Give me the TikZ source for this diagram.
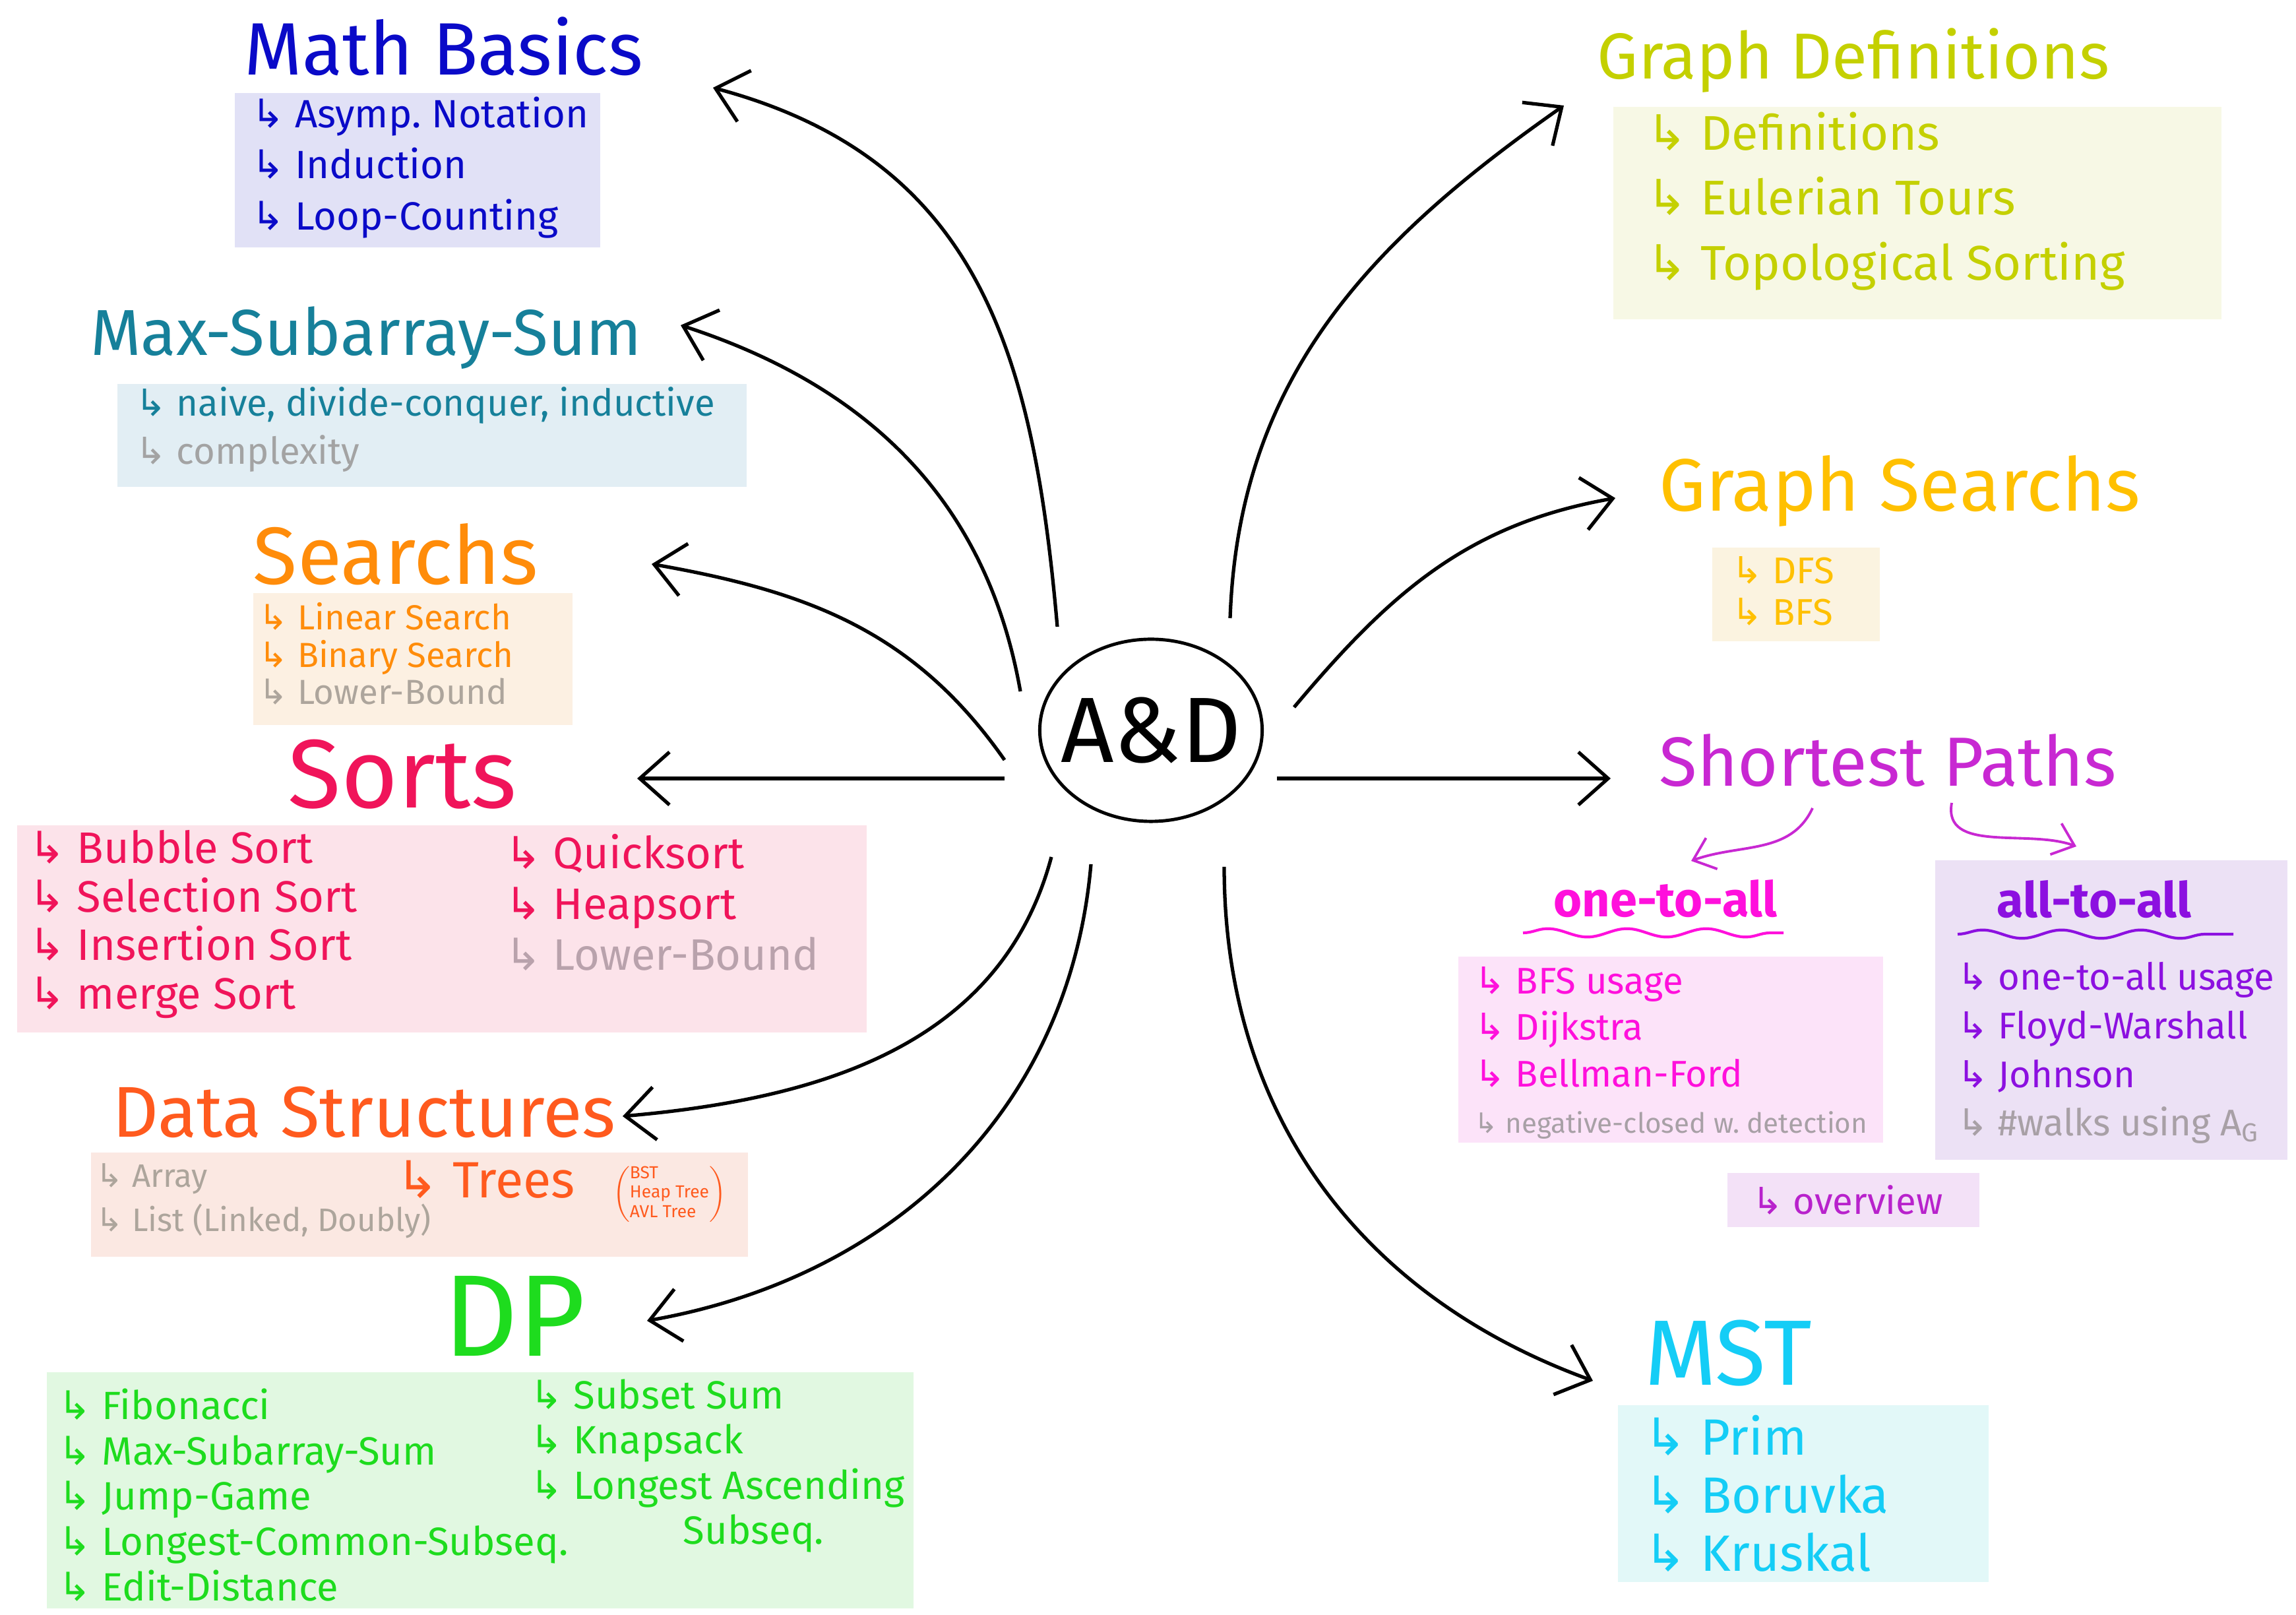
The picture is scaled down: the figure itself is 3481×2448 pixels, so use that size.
\documentclass[tikz,border=0pt]{standalone}
\usepackage{fontspec}
\setmainfont{Fira Sans}
\newfontfamily\symfont{DejaVu Sans}
\usepackage{tikz}
\usetikzlibrary{arrows.meta,shapes.geometric,decorations.pathmorphing}

\definecolor{mbcol}{HTML}{0A0AC8}
\definecolor{mbfill}{HTML}{E1E1F6}
\definecolor{mscol}{HTML}{16809A}
\definecolor{msfill}{HTML}{E2EEF4}
\definecolor{srcol}{HTML}{FF8C0A}
\definecolor{srfill}{HTML}{FCF0E2}
\definecolor{socol}{HTML}{F0145A}
\definecolor{sofill}{HTML}{FCE3EA}
\definecolor{dscol}{HTML}{FF5A1E}
\definecolor{dsfill}{HTML}{FBE8E2}
\definecolor{dpcol}{HTML}{1EDC1E}
\definecolor{dpfill}{HTML}{E1F8E1}
\definecolor{gdcol}{HTML}{C4D000}
\definecolor{gdfill}{HTML}{F7F8E5}
\definecolor{gscol}{HTML}{FFC000}
\definecolor{gsfill}{HTML}{FBF3E0}
\definecolor{spcol}{HTML}{C828D2}
\definecolor{otacol}{HTML}{FF10DC}
\definecolor{otafill}{HTML}{FCE3F9}
\definecolor{atacol}{HTML}{8C10E0}
\definecolor{atafill}{HTML}{ECE1F5}
\definecolor{ovcol}{HTML}{B822CC}
\definecolor{ovfill}{HTML}{F3E1F7}
\definecolor{mstcol}{HTML}{14CDF6}
\definecolor{mstfill}{HTML}{E2F8F8}
\definecolor{greyA}{HTML}{A3A3A3}
\definecolor{greyB}{HTML}{ADA59C}
\definecolor{greyC}{HTML}{B9A2AC}
\definecolor{greyD}{HTML}{A8A0A6}

\newcommand{\itm}{{\symfont ↳}\ }
\newcommand{\fs}[2]{\fontsize{#1}{#2}\selectfont}

\tikzstyle{head}=[inner sep=0]
\tikzstyle{box}=[rectangle,inner sep=0]
\tikzstyle{list}=[align=left,inner sep=0,anchor=west]
\tikzstyle{branch}=[draw,line width=1.5pt,black,>={Straight Barb[length=4.5mm,width=8mm]}]
\tikzstyle{subbranch}=[draw,line width=1.1pt,spcol,>={Straight Barb[length=3mm,width=5mm]}]
\tikzstyle{wavy}=[draw,line width=1.2pt,decorate,decoration={snake,amplitude=1.8pt,segment length=1.2cm}]

\begin{document}
\begin{tikzpicture}[x=0.01cm,y=0.01cm]
	\useasboundingbox (0,0) rectangle (3481,2448);

	\node[ellipse,draw,line width=1.4pt,inner sep=0,minimum width=3.37cm,minimum height=2.76cm,font=\fs{40}{46}] (ad) at (1745,1341) {\makebox[2cm]{A\&D}};

	% left side
	\node[head,text=mbcol,font=\fs{32}{38}] (mb) at (673,2378) {Math Basics};
	\node[box,fill=mbfill,minimum width=5.53cm,minimum height=2.33cm] (mbb) at (633,2190) {};
	\node[list,text=mbcol,font=\fs{17}{22}] (mbl) at ([shift={(25,4)}]mbb.west)
	{\itm Asymp.\ Notation\\ \itm Induction\\ \itm Loop-Counting};

	\node[head,text=mscol,font=\fs{28}{34}] (ms) at (555,1936) {Max-Subarray-Sum};
	\node[box,fill=msfill,minimum width=9.54cm,minimum height=1.55cm] (msb) at (655,1788) {};
	\node[list,text=mscol,font=\fs{16}{21}] (msl) at ([shift={(28,9)}]msb.west)
	{\itm naive, divide-conquer, inductive\\ \textcolor{greyA}{\itm complexity}};

	\node[head,text=srcol,font=\fs{35}{40}] (sr) at (600,1608) {Searchs};
	\node[box,fill=srfill,minimum width=4.84cm,minimum height=2cm] (srb) at (626,1449) {};
	\node[list,text=srcol,font=\fs{15}{16}] (srl) at ([shift={(9,8)}]srb.west)
	{\itm Linear Search\\ \itm Binary Search\\ \textcolor{greyB}{\itm Lower-Bound}};

	\node[head,text=socol,font=\fs{42}{48}] (so) at (610,1274) {Sorts};
	\node[box,fill=sofill,minimum width=12.87cm,minimum height=3.13cm] (sob) at (670,1040) {};
	\node[list,text=socol,font=\fs{19}{21}] (sol) at ([shift={(17,7)}]sob.west)
	{\itm Bubble Sort\\ \itm Selection Sort\\ \itm Insertion Sort\\ \itm merge Sort};
	\node[list,text=socol,font=\fs{19}{22}] (sor) at ([shift={(739,40)}]sob.west)
	{\itm Quicksort\\ \itm Heapsort\\ \textcolor{greyC}{\itm Lower-Bound}};

	\node[head,text=dscol,font=\fs{31}{36}] (ds) at (552,762) {Data Structures};
	\node[box,fill=dsfill,minimum width=9.96cm,minimum height=1.58cm] (dsb) at (636,622) {};
	\node[list,text=greyB,font=\fs{14}{19}] (dsl) at ([shift={(8,6)}]dsb.west)
	{\itm Array\\ \itm List (Linked, Doubly)};
	\node[list,text=dscol,font=\fs{22}{26}] (dst) at (600,660) {\itm Trees};
	\node[inner sep=0,text=dscol,font=\fs{7.5}{8.5}] (dsn) at (1015,638)
	{$\left(\begin{tabular}{@{}l@{}}BST\\ Heap Tree\\ AVL Tree\end{tabular}\right)$};

	\node[head,text=dpcol,font=\fs{50}{56}] (dp) at (780,453) {DP};
	\node[box,fill=dpfill,minimum width=13.14cm,minimum height=3.58cm] (dpb) at (728,189) {};
	\node[list,text=dpcol,font=\fs{17}{19.5}] (dpl) at ([shift={(18,-7)}]dpb.west)
	{\itm Fibonacci\\ \itm Max-Subarray-Sum\\ \itm Jump-Game\\ \itm Longest-Common-Subseq.\\ \itm Edit-Distance};
	\node[list,text=dpcol,font=\fs{17}{19.5}] (dpr) at ([shift={(733,37)}]dpb.west)
	{\itm Subset Sum\\ \itm Knapsack\\ \itm Longest Ascending\\ \hspace*{66pt}Subseq.};

	% right side
	\node[head,text=gdcol,font=\fs{28}{34}] (gd) at (2810,2356) {Graph Definitions};
	\node[box,fill=gdfill,minimum width=9.22cm,minimum height=3.22cm] (gdb) at (2907,2125) {};
	\node[list,text=gdcol,font=\fs{21}{28}] (gdl) at ([shift={(51,18)}]gdb.west)
	{\itm Definitions\\ \itm Eulerian Tours\\ \itm Topological Sorting};

	\node[head,text=gscol,font=\fs{32}{38}] (gs) at (2880,1704) {Graph Searchs};
	\node[box,fill=gsfill,minimum width=2.53cm,minimum height=1.42cm] (gsb) at (2723,1547) {};
	\node[list,text=gscol,font=\fs{16}{18}] (gsl) at ([shift={(29,5)}]gsb.west)
	{\itm DFS\\ \itm BFS};

	\node[head,text=spcol,font=\fs{30}{36}] (sp) at (2862,1295) {Shortest Paths};
	\node[head,text=otacol,font=\fs{21}{26}\bfseries] (ota) at (2525,1086) {one-to-all};
	\node[box,fill=otafill,minimum width=6.44cm,minimum height=2.82cm] (otab) at (2533,857) {};
	\node[list,text=otacol,font=\fs{16}{20}] (otal) at ([shift={(25,-5)}]otab.west)
	{\itm BFS usage\\ \itm Dijkstra\\ \itm Bellman-Ford\\ \textcolor{greyD}{\fs{12}{20}\itm negative-closed w.\ detection}};

	\node[box,fill=atafill,minimum width=5.33cm,minimum height=4.53cm] (atab) at (3201,917) {};
	\node[head,text=atacol,font=\fs{21}{26}\bfseries] (ata) at (3175,1085) {all-to-all};
	\node[list,text=atacol,font=\fs{16}{21}] (atal) at ([shift={(33,-65)}]atab.west)
	{\itm one-to-all usage\\ \itm Floyd-Warshall\\ \itm Johnson\\ \textcolor{greyD}{\itm \#walks using A\textsubscript{G}}};

	\node[box,fill=ovfill,minimum width=3.81cm,minimum height=0.82cm] (ovb) at (2810,629) {};
	\node[list,text=ovcol,font=\fs{16}{20}] (ov) at ([shift={(37,0)}]ovb.west) {\itm overview};

	\node[head,text=mstcol,font=\fs{40}{46}] (mst) at (2620,397) {MST};
	\node[box,fill=mstfill,minimum width=5.62cm,minimum height=2.67cm] (mstb) at (2734,184) {};
	\node[list,text=mstcol,font=\fs{22}{25}] (mstl) at ([shift={(40,0)}]mstb.west)
	{\itm Prim\\ \itm Boruvka\\ \itm Kruskal};

	% arrow tips
	\coordinate (tmb) at (1081,2315);
	\coordinate (tms) at (1032,1955);
	\coordinate (tsr) at (988,1593);
	\coordinate (tso) at (966,1268);
	\coordinate (tds) at (944,756);
	\coordinate (tdp) at (981,446);
	\coordinate (tmst) at (2415,355);
	\coordinate (tgd) at (2371,2288);
	\coordinate (tgs) at (2449,1693);
	\coordinate (tsp) at (2442,1268);
	\coordinate (tota) at (2564,1143);
	\coordinate (tata) at (3148,1165);

	\draw[branch,->] ([shift={(-142,157)}]ad.center) to [out=95,in=-15,looseness=1.1] (tmb);
	\draw[branch,->] ([shift={(-198,59)}]ad.center) to [out=100,in=-18] (tms);
	\draw[branch,->] ([shift={(-222,-45)}]ad.center) to [out=125,in=-10] (tsr);
	\draw[branch,->] ([shift={(-222,-73)}]ad.center) -- (tso);
	\draw[branch,->] ([shift={(-151,-192)}]ad.center) to [out=255,in=5] (tds);
	\draw[branch,->] ([shift={(-91,-203)}]ad.center) to [out=265,in=10] (tdp);
	\draw[branch,->] ([shift={(111,-207)}]ad.center) to [out=270,in=160] (tmst);
	\draw[branch,->] ([shift={(120,170)}]ad.center) to [out=88,in=215] (tgd);
	\draw[branch,->] ([shift={(217,35)}]ad.center) to [out=50,in=190] (tgs);
	\draw[branch,->] ([shift={(191,-73)}]ad.center) -- (tsp);

	\draw[subbranch,->] ([shift={(-114,-72)}]sp.center) to [out=-115,in=20] (tota);
	\draw[subbranch,->] ([shift={(97,-64)}]sp.center) to [out=-100,in=160] (tata);

	% underlines
	\path[wavy,otacol] (2309,1034) -- (2704,1034);
	\path[wavy,atacol] (2968,1032) -- (3386,1032);
\end{tikzpicture}
\end{document}
